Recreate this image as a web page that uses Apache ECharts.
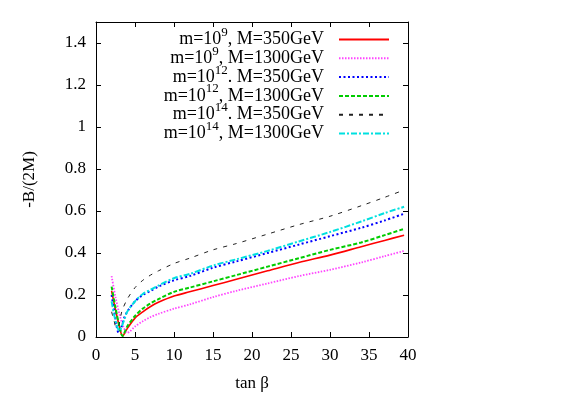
<!DOCTYPE html>
<html><head><meta charset="utf-8">
<script src="https://cdn.jsdelivr.net/npm/echarts@6/dist/echarts.min.js"></script>
<style>html,body{margin:0;padding:0;background:#fff}#c{width:566px;height:397px}</style>
</head><body><div id="c"></div>
<script>
// tan beta samples and -B/(2M) values per curve
const xRed   = [2, 2.5, 3, 3.4, 4, 5, 6, 7, 8, 10, 12, 15, 18, 22, 26, 30, 34, 37, 39.5];
const yRed   = [0.22, 0.13, 0.05, 0.005, 0.04, 0.09, 0.12, 0.145, 0.165, 0.195, 0.215, 0.245, 0.275, 0.315, 0.355, 0.39, 0.43, 0.46, 0.485];
const xMag   = [2, 2.5, 3, 3.5, 4, 4.3, 5, 6, 7, 8, 10, 12, 15, 18, 22, 26, 30, 34, 37, 39.5];
const yMag   = [0.29, 0.19, 0.11, 0.05, 0.02, 0.025, 0.05, 0.075, 0.095, 0.11, 0.135, 0.155, 0.19, 0.22, 0.255, 0.29, 0.32, 0.355, 0.385, 0.41];
const xBlue  = [2, 2.3, 2.6, 2.9, 3.2, 3.6, 4, 5, 6, 7, 8, 10, 12, 15, 18, 22, 26, 30, 34, 37, 39.5];
const yBlue  = [0.20, 0.13, 0.06, 0.02, 0.04, 0.09, 0.12, 0.17, 0.20, 0.22, 0.24, 0.27, 0.29, 0.33, 0.36, 0.40, 0.44, 0.48, 0.52, 0.555, 0.587];
const xGreen = [2, 2.5, 3, 3.4, 4, 5, 6, 7, 8, 10, 12, 15, 18, 22, 26, 30, 34, 37, 39.5];
const yGreen = [0.24, 0.14, 0.05, 0.005, 0.05, 0.10, 0.135, 0.16, 0.18, 0.215, 0.235, 0.265, 0.295, 0.335, 0.375, 0.415, 0.45, 0.485, 0.515];
const xBlack = [2, 2.3, 2.6, 2.9, 3.3, 4, 5, 6, 7, 8, 10, 12, 15, 18, 22, 26, 30, 34, 37, 39.5];
const yBlack = [0.12, 0.08, 0.045, 0.05, 0.12, 0.18, 0.235, 0.27, 0.295, 0.315, 0.35, 0.375, 0.415, 0.445, 0.49, 0.535, 0.575, 0.625, 0.665, 0.70];
const xCyan  = [2, 2.3, 2.7, 3, 3.3, 3.7, 4, 5, 6, 7, 8, 10, 12, 15, 18, 22, 26, 30, 34, 37, 39.5];
const yCyan  = [0.17, 0.11, 0.05, 0.03, 0.05, 0.09, 0.12, 0.17, 0.205, 0.225, 0.245, 0.28, 0.30, 0.34, 0.37, 0.41, 0.455, 0.50, 0.55, 0.59, 0.62];
const seriesNames = [
  'm=10{s|9}{a|, M=350GeV}',
  'm=10{s|9}{a|, M=1300GeV}',
  'm=10{s|12}{a|. M=350GeV}',
  'm=10{s|12}{a|, M=1300GeV}',
  'm=10{s|14}{a|. M=350GeV}',
  'm=10{s|14}{a|, M=1300GeV}'
];
const xTicks = [0, 5, 10, 15, 20, 25, 30, 35, 40];
const yTicks = [0, 0.2, 0.4, 0.6, 0.8, 1, 1.2, 1.4];

const FONT = 'Liberation Serif';
const zip = (xs, ys) => xs.map((x, i) => [x, ys[i]]);
const styles = [
  {color: '#ff0000', width: 1.6, type: 'solid'},
  {color: '#ff44ff', width: 1.8, type: [1.5, 1.5]},
  {color: '#0000ff', width: 2, type: [2, 2.5]},
  {color: '#00cc00', width: 2, type: [4, 2]},
  {color: '#222222', width: 1, type: [4, 6]},
  {color: '#00e0e0', width: 2, type: [6, 2, 2, 2]}
];
const datas = [zip(xRed, yRed), zip(xMag, yMag), zip(xBlue, yBlue), zip(xGreen, yGreen), zip(xBlack, yBlack), zip(xCyan, yCyan)];

const axisCommon = {
  axisLine: {show: true, onZero: false, lineStyle: {color: '#000', width: 1}},
  axisTick: {show: true, inside: true, length: 5, lineStyle: {color: '#000'}},
  splitLine: {show: false}
};
const chart = echarts.init(document.getElementById('c'));
chart.setOption({
  animation: false,
  backgroundColor: '#fff',
  grid: {left: 96, right: 158, top: 22, bottom: 57},
  legend: {
    orient: 'vertical', right: 176, top: 26, padding: 0, itemGap: -8.2,
    itemWidth: 50, itemHeight: 14, align: 'right', selectedMode: false,
    itemStyle: {opacity: 0},
    data: seriesNames,
    textStyle: {
      fontFamily: FONT, fontSize: 18, color: '#000', lineHeight: 19,
      rich: {
        s: {fontFamily: FONT, fontSize: 13, color: '#000', padding: [0, 0, 14, 0], lineHeight: 5},
        a: {fontFamily: FONT, fontSize: 18, color: '#000', padding: [0, 10, 0, 0], lineHeight: 19}
      }
    }
  },
  xAxis: [
    Object.assign({type: 'value', min: 0, max: 40, interval: 5, position: 'bottom',
      name: 'tan β', nameLocation: 'middle', nameGap: 38,
      nameTextStyle: {fontFamily: FONT, fontSize: 17, color: '#000'},
      axisLabel: {fontFamily: FONT, fontSize: 17, color: '#000', margin: 10,
        formatter: v => xTicks.includes(v) ? String(v) : ''}}, axisCommon),
    Object.assign({type: 'value', min: 0, max: 40, interval: 5, position: 'top', axisLabel: {show: false}}, axisCommon)
  ],
  yAxis: [
    Object.assign({type: 'value', min: 0, max: 1.5, interval: 0.2, position: 'left',
      name: '-B/(2M)', nameLocation: 'middle', nameGap: 58, nameRotate: 90,
      nameTextStyle: {fontFamily: FONT, fontSize: 17, color: '#000'},
      axisLabel: {fontFamily: FONT, fontSize: 17, color: '#000', margin: 10, showMaxLabel: false,
        formatter: v => { const t = yTicks.find(k => Math.abs(k - v) < 1e-6); return t === undefined ? '' : String(t); }}}, axisCommon),
    Object.assign({type: 'value', min: 0, max: 1.5, interval: 0.2, position: 'right', axisLabel: {show: false}}, axisCommon)
  ],
  series: datas.map((d, i) => ({
    name: seriesNames[i], type: 'line', data: d, symbol: 'none', smooth: 0.3,
    lineStyle: styles[i], itemStyle: {color: styles[i].color}
  }))
});
</script></body></html>
